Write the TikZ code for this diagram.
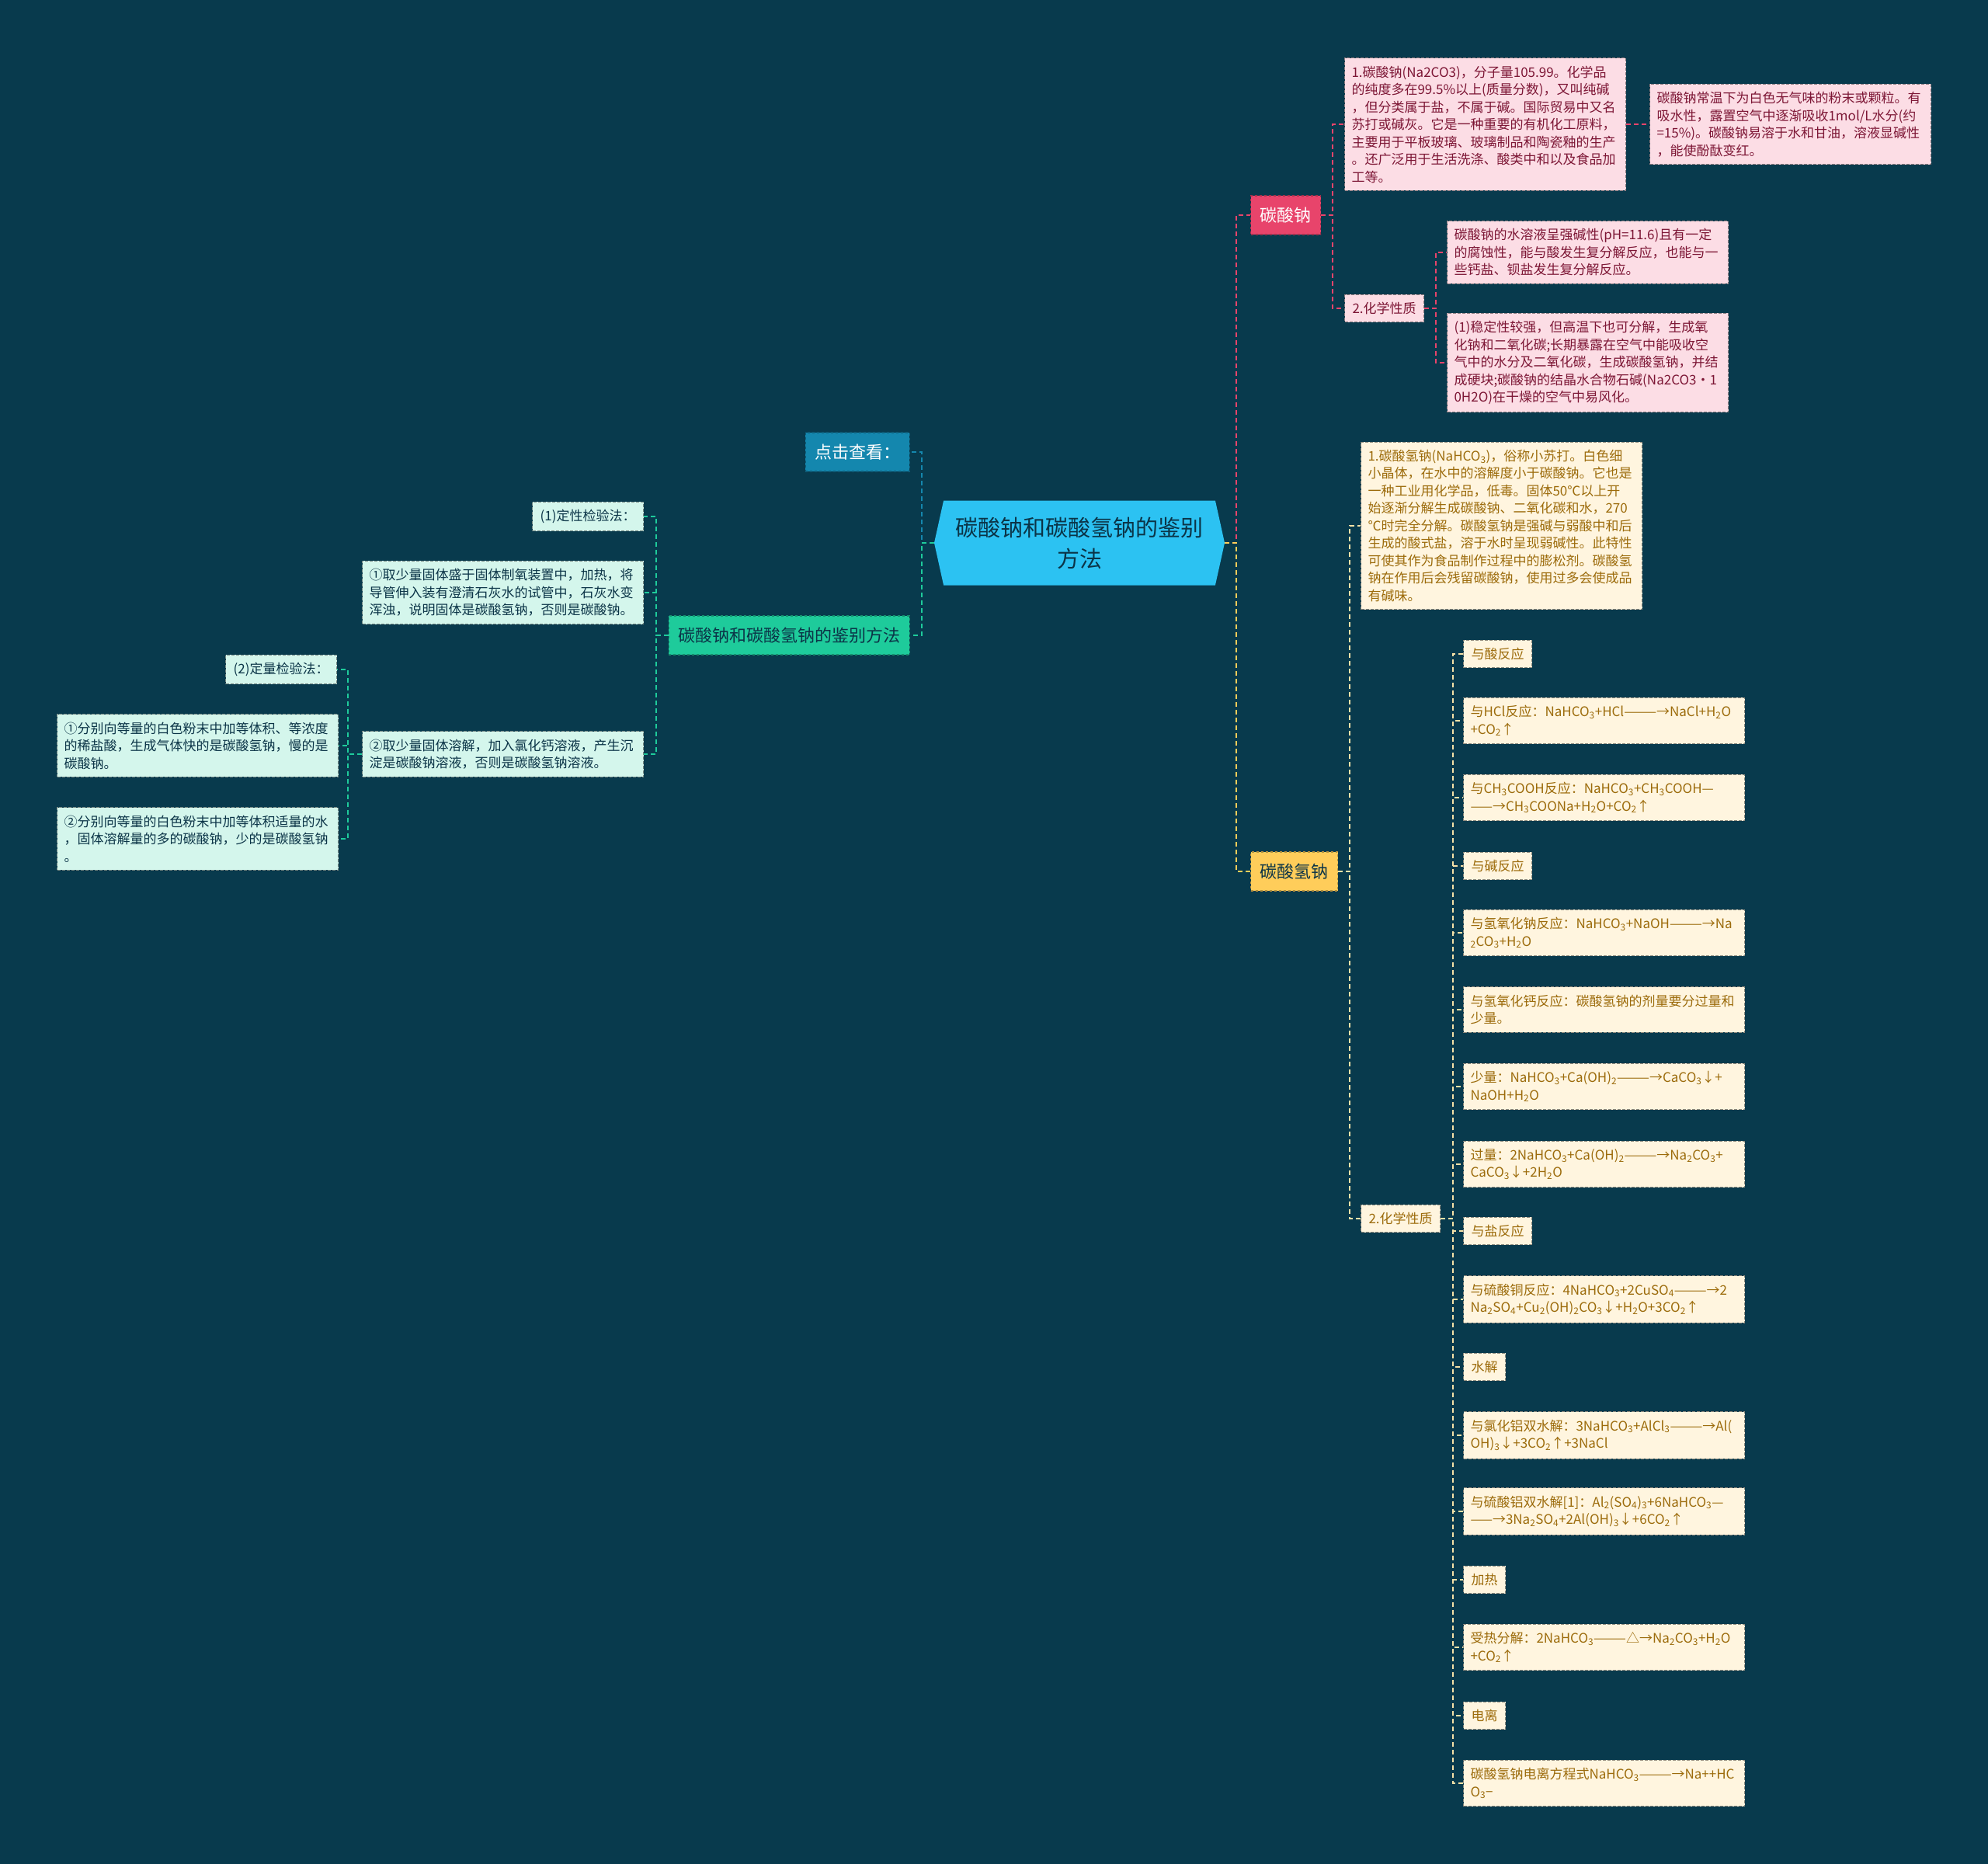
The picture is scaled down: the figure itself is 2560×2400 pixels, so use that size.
\documentclass[tikz,border=0pt]{standalone}
\usepackage{fontspec}
\setmainfont{Noto Sans CJK SC}
\usetikzlibrary{positioning,shapes.symbols}
\definecolor{bg}{HTML}{083A4D}
\definecolor{rootblue}{HTML}{2CC2F2}
\definecolor{ink}{HTML}{0B3447}
\definecolor{seablue}{HTML}{1487AE}
\definecolor{mint}{HTML}{1ECB9B}
\definecolor{mintpale}{HTML}{D4F6EC}
\definecolor{rose}{HTML}{E8446B}
\definecolor{rosepale}{HTML}{FCDDE5}
\definecolor{rosetext}{HTML}{7D1635}
\definecolor{gold}{HTML}{FFCD5A}
\definecolor{goldpale}{HTML}{FFF5DF}
\definecolor{goldtext}{HTML}{9C6B0B}
\definecolor{goldline}{HTML}{F6E2A8}
\newcommand{\ssub}[1]{\textsubscript{#1}}

\begin{document}
\begin{tikzpicture}[
    x=1pt, y=-1pt,
    root/.style={signal, signal to=west and east, signal pointer angle=155, fill=rootblue, text=ink, minimum width=374pt, minimum height=109pt, font=\fontsize{29}{40}\selectfont, align=center, inner sep=0pt},
    topic/.style={rectangle, dashed, line width=1.2pt, font=\fontsize{22}{28}\selectfont, inner xsep=12pt, minimum height=50pt},
    note/.style={rectangle, dash pattern=on 4pt off 2pt, line width=1pt, font=\fontsize{17}{22.5}\selectfont, align=left, inner xsep=10pt, inner ysep=10pt},
    wide/.style={text width=344pt, inner xsep=9pt},
    mintnote/.style={note, fill=mintpale, draw=mintpale!55!black, text=ink},
    rosenote/.style={note, fill=rosepale, draw=rosepale!55!black, text=rosetext},
    goldnote/.style={note, fill=goldpale, draw=goldpale!55!black, text=goldtext},
    link/.style={dash pattern=on 6pt off 4pt, line width=1.6pt}
]

% Background
\fill[bg] (0,0) rectangle (2560,2400);
\useasboundingbox (0,0) rectangle (2560,2400);

% Root
\node[root] (root) at (1390,699) {碳酸钠和碳酸氢钠的鉴别\\方法};

% Left topics
\node[topic, fill=seablue, draw=seablue!70!black, text=white, anchor=east] (look) at (1172,582) {点击查看：};
\node[topic, fill=mint, draw=mint!70!black, text=ink, anchor=east] (method) at (1172,818) {碳酸钠和碳酸氢钠的鉴别方法};

% Qualitative tests
\node[mintnote, anchor=east] (qual) at (829,665) {(1)定性检验法：};
\node[mintnote, wide, anchor=east] (heatTest) at (829,763) {①取少量固体盛于固体制氧装置中，加热，将\\导管伸入装有澄清石灰水的试管中，石灰水变\\浑浊，说明固体是碳酸氢钠，否则是碳酸钠。};
\node[mintnote, wide, anchor=east] (calTest) at (829,971) {②取少量固体溶解，加入氯化钙溶液，产生沉\\淀是碳酸钠溶液，否则是碳酸氢钠溶液。};

% Quantitative tests
\node[mintnote, anchor=east] (quant) at (434,862) {(2)定量检验法：};
\node[mintnote, wide, anchor=east] (acidTest) at (436,960) {①分别向等量的白色粉末中加等体积、等浓度\\的稀盐酸，生成气体快的是碳酸氢钠，慢的是\\碳酸钠。};
\node[mintnote, wide, anchor=east] (waterTest) at (436,1080) {②分别向等量的白色粉末中加等体积适量的水\\，固体溶解量的多的碳酸钠，少的是碳酸氢钠\\。};

% Sodium carbonate
\node[topic, fill=rose, draw=rose!70!black, text=white, anchor=west] (naco) at (1610,277) {碳酸钠};
\node[rosenote, wide, anchor=west] (nacoInfo) at (1731,160) {1.碳酸钠(Na2CO3)，分子量105.99。化学品\\的纯度多在99.5\%以上(质量分数)，又叫纯碱\\，但分类属于盐，不属于碱。国际贸易中又名\\苏打或碱灰。它是一种重要的有机化工原料，\\主要用于平板玻璃、玻璃制品和陶瓷釉的生产\\。还广泛用于生活洗涤、酸类中和以及食品加\\工等。};
\node[rosenote, wide, anchor=west] (nacoLook) at (2124,160) {碳酸钠常温下为白色无气味的粉末或颗粒。有\\吸水性，露置空气中逐渐吸收1mol/L水分(约\\=15\%)。碳酸钠易溶于水和甘油，溶液显碱性\\，能使酚酞变红。};
\node[rosenote, anchor=west] (nacoChem) at (1731,397) {2.化学性质};
\node[rosenote, wide, anchor=west] (nacoBase) at (1863,325) {碳酸钠的水溶液呈强碱性(pH=11.6)且有一定\\的腐蚀性，能与酸发生复分解反应，也能与一\\些钙盐、钡盐发生复分解反应。};
\node[rosenote, wide, anchor=west] (nacoStable) at (1863,467) {(1)稳定性较强，但高温下也可分解，生成氧\\化钠和二氧化碳;长期暴露在空气中能吸收空\\气中的水分及二氧化碳，生成碳酸氢钠，并结\\成硬块;碳酸钠的结晶水合物石碱(Na2CO3·1\\0H2O)在干燥的空气中易风化。};

% Sodium bicarbonate
\node[topic, fill=gold, draw=gold!70!black, text=ink, anchor=west] (hco) at (1610,1122) {碳酸氢钠};
\node[goldnote, wide, anchor=west] (hcoInfo) at (1752,677) {1.碳酸氢钠(NaHCO\ssub{3})，俗称小苏打。白色细\\小晶体，在水中的溶解度小于碳酸钠。它也是\\一种工业用化学品，低毒。固体50℃以上开\\始逐渐分解生成碳酸钠、二氧化碳和水，270\\℃时完全分解。碳酸氢钠是强碱与弱酸中和后\\生成的酸式盐，溶于水时呈现弱碱性。此特性\\可使其作为食品制作过程中的膨松剂。碳酸氢\\钠在作用后会残留碳酸钠，使用过多会使成品\\有碱味。};
\node[goldnote, anchor=west] (hcoChem) at (1752,1569) {2.化学性质};

% Reactions
\node[goldnote, anchor=west] (acid) at (1884,842) {与酸反应};
\node[goldnote, wide, anchor=west] (hcl) at (1884,928) {与HCl反应：NaHCO\ssub{3}+HCl———→NaCl+H\ssub{2}O\\+CO\ssub{2}↑};
\node[goldnote, wide, anchor=west] (acetic) at (1884,1027) {与CH\ssub{3}COOH反应：NaHCO\ssub{3}+CH\ssub{3}COOH—\\——→CH\ssub{3}COONa+H\ssub{2}O+CO\ssub{2}↑};
\node[goldnote, anchor=west] (alkali) at (1884,1115) {与碱反应};
\node[goldnote, wide, anchor=west] (naoh) at (1884,1201) {与氢氧化钠反应：NaHCO\ssub{3}+NaOH———→Na\\\ssub{2}CO\ssub{3}+H\ssub{2}O};
\node[goldnote, wide, anchor=west] (caoh) at (1884,1300) {与氢氧化钙反应：碳酸氢钠的剂量要分过量和\\少量。};
\node[goldnote, wide, anchor=west] (little) at (1884,1399) {少量：NaHCO\ssub{3}+Ca(OH)\ssub{2}———→CaCO\ssub{3}↓+\\NaOH+H\ssub{2}O};
\node[goldnote, wide, anchor=west] (excess) at (1884,1499) {过量：2NaHCO\ssub{3}+Ca(OH)\ssub{2}———→Na\ssub{2}CO\ssub{3}+\\CaCO\ssub{3}↓+2H\ssub{2}O};
\node[goldnote, anchor=west] (salt) at (1884,1585) {与盐反应};
\node[goldnote, wide, anchor=west] (cuso) at (1884,1673) {与硫酸铜反应：4NaHCO\ssub{3}+2CuSO\ssub{4}———→2\\Na\ssub{2}SO\ssub{4}+Cu\ssub{2}(OH)\ssub{2}CO\ssub{3}↓+H\ssub{2}O+3CO\ssub{2}↑};
\node[goldnote, anchor=west] (hydro) at (1884,1760) {水解};
\node[goldnote, wide, anchor=west] (alcl) at (1884,1848) {与氯化铝双水解：3NaHCO\ssub{3}+AlCl\ssub{3}———→Al(\\OH)\ssub{3}↓+3CO\ssub{2}↑+3NaCl};
\node[goldnote, wide, anchor=west] (also) at (1884,1946) {与硫酸铝双水解[1]：Al\ssub{2}(SO\ssub{4})\ssub{3}+6NaHCO\ssub{3}—\\——→3Na\ssub{2}SO\ssub{4}+2Al(OH)\ssub{3}↓+6CO\ssub{2}↑};
\node[goldnote, anchor=west] (heat) at (1884,2034) {加热};
\node[goldnote, wide, anchor=west] (decomp) at (1884,2121) {受热分解：2NaHCO\ssub{3}———△→Na\ssub{2}CO\ssub{3}+H\ssub{2}O\\+CO\ssub{2}↑};
\node[goldnote, anchor=west] (ion) at (1884,2209) {电离};
\node[goldnote, wide, anchor=west] (ionEq) at (1884,2296) {碳酸氢钠电离方程式NaHCO\ssub{3}———→Na++HC\\O\ssub{3}−};

% Links from the root
\draw[link, seablue] (root.west) -- ++(-16,0) |- (look.east);
\draw[link, mint] (root.west) -- ++(-16,0) |- (method.east);
\draw[link, rose] (root.east) -- ++(15,0) |- (naco.west);
\draw[link, gold] (root.east) -- ++(15,0) |- (hco.west);

% Links of the test methods
\draw[link, mint] (method.west) -- ++(-16,0) |- (qual.east);
\draw[link, mint] (method.west) -- ++(-16,0) |- (heatTest.east);
\draw[link, mint] (method.west) -- ++(-16,0) |- (calTest.east);
\draw[link, mint] (calTest.west) -- ++(-18,0) |- (quant.east);
\draw[link, mint] (calTest.west) -- ++(-18,0) |- (acidTest.east);
\draw[link, mint] (calTest.west) -- ++(-18,0) |- (waterTest.east);

% Links of sodium carbonate
\draw[link, rose] (naco.east) -- ++(15,0) |- (nacoInfo.west);
\draw[link, rose] (naco.east) -- ++(15,0) |- (nacoChem.west);
\draw[link, rose] (nacoInfo.east) -- (nacoLook.west);
\draw[link, rose] (nacoChem.east) -- ++(15,0) |- (nacoBase.west);
\draw[link, rose] (nacoChem.east) -- ++(15,0) |- (nacoStable.west);

% Links of sodium bicarbonate
\draw[link, goldline] (hco.east) -- ++(15,0) |- (hcoInfo.west);
\draw[link, goldline] (hco.east) -- ++(15,0) |- (hcoChem.west);
\draw[link, goldline] (hcoChem.east) -- ++(16,0) |- (acid.west);
\draw[link, goldline] (hcoChem.east) -- ++(16,0) |- (hcl.west);
\draw[link, goldline] (hcoChem.east) -- ++(16,0) |- (acetic.west);
\draw[link, goldline] (hcoChem.east) -- ++(16,0) |- (alkali.west);
\draw[link, goldline] (hcoChem.east) -- ++(16,0) |- (naoh.west);
\draw[link, goldline] (hcoChem.east) -- ++(16,0) |- (caoh.west);
\draw[link, goldline] (hcoChem.east) -- ++(16,0) |- (little.west);
\draw[link, goldline] (hcoChem.east) -- ++(16,0) |- (excess.west);
\draw[link, goldline] (hcoChem.east) -- ++(16,0) |- (salt.west);
\draw[link, goldline] (hcoChem.east) -- ++(16,0) |- (cuso.west);
\draw[link, goldline] (hcoChem.east) -- ++(16,0) |- (hydro.west);
\draw[link, goldline] (hcoChem.east) -- ++(16,0) |- (alcl.west);
\draw[link, goldline] (hcoChem.east) -- ++(16,0) |- (also.west);
\draw[link, goldline] (hcoChem.east) -- ++(16,0) |- (heat.west);
\draw[link, goldline] (hcoChem.east) -- ++(16,0) |- (decomp.west);
\draw[link, goldline] (hcoChem.east) -- ++(16,0) |- (ion.west);
\draw[link, goldline] (hcoChem.east) -- ++(16,0) |- (ionEq.west);

\end{tikzpicture}
\end{document}
